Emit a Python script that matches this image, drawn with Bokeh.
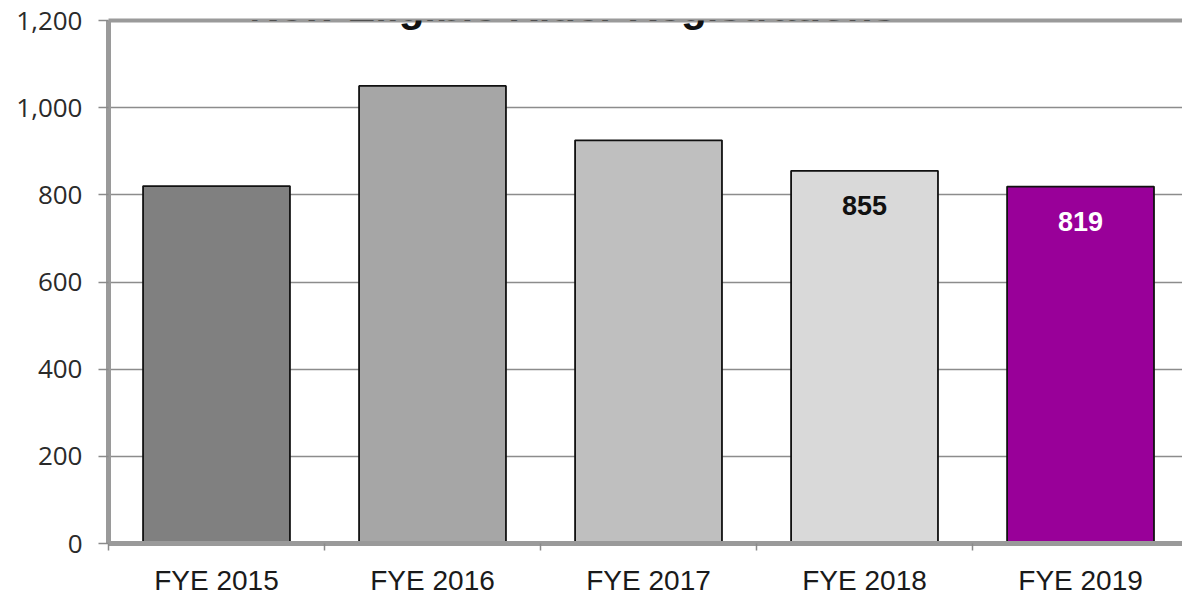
from bokeh.plotting import figure
from bokeh.models import (ColumnDataSource, Range1d, FixedTicker, NumeralTickFormatter,
                          LinearAxis, Label)
from bokeh.core.properties import value
from bokeh.embed import file_html
from bokeh.resources import INLINE

title_text = "New Eligible Rider Registrations"
categories = ["FYE 2015", "FYE 2016", "FYE 2017", "FYE 2018", "FYE 2019"]
registrations = [820, 1050, 925, 855, 819]
bar_colors = ["#808080", "#a6a6a6", "#bfbfbf", "#d9d9d9", "#990099"]
bar_labels = ["", "", "", "855", "819"]
label_colors = ["#111111", "#111111", "#111111", "#111111", "#ffffff"]
y_ticks = [0, 200, 400, 600, 800, 1000, 1200]

xs = list(range(len(categories)))
src = ColumnDataSource(dict(x=xs, y=registrations, color=bar_colors,
                            label=bar_labels, lcolor=label_colors))

p = figure(width=1182, height=598, output_backend="svg", toolbar_location=None,
           x_range=Range1d(-0.5, 4.472), y_range=Range1d(0, 1200),
           min_border_left=108, min_border_right=0, min_border_top=20,
           min_border_bottom=50, background_fill_color="white",
           border_fill_color="white", outline_line_color=None)

p.vbar(x="x", top="y", width=0.68, bottom=0, source=src, fill_color="color",
       line_color="#111111", line_width=1.8)

p.text(x="x", y="y", text="label", source=src, text_color="lcolor",
       text_font=value("Liberation Sans"), text_font_style="bold",
       text_font_size="27px", text_align="center", text_baseline="middle",
       y_offset=35)

# y axis
ya = p.yaxis[0]
ya.ticker = FixedTicker(ticks=y_ticks)
ya.formatter = NumeralTickFormatter(format="0,0")
ya.axis_line_color = "#9a9a9a"
ya.axis_line_width = 5
ya.major_tick_line_color = "#8a8a8a"
ya.major_tick_line_width = 1.5
ya.major_tick_out = 10
ya.major_tick_in = 0
ya.minor_tick_line_color = None
ya.major_label_standoff = 16
ya.major_label_text_font = "Open Sans"
ya.major_label_text_font_size = "26px"
ya.major_label_text_color = "#2a2a2a"

# x axis
xa = p.xaxis[0]
xa.ticker = FixedTicker(ticks=xs, minor_ticks=[i - 0.5 for i in range(len(categories) + 1)])
xa.major_label_overrides = {i: c for i, c in zip(xs, categories)}
xa.axis_line_color = "#9a9a9a"
xa.axis_line_width = 5
xa.major_tick_line_color = None
xa.minor_tick_line_color = "#8a8a8a"
xa.minor_tick_line_width = 1.5
xa.minor_tick_out = 7
xa.minor_tick_in = 0
xa.major_label_standoff = 14
xa.major_label_text_font = "Liberation Sans"
xa.major_label_text_font_size = "28px"
xa.major_label_text_color = "#1a1a1a"

# top border line
top_axis = LinearAxis(ticker=FixedTicker(ticks=[]), axis_line_color="#9a9a9a",
                      axis_line_width=4, major_tick_line_color=None,
                      minor_tick_line_color=None, major_label_text_font_size="0px")
p.add_layout(top_axis, "above")

p.xgrid.grid_line_color = None
p.ygrid.ticker = FixedTicker(ticks=y_ticks)
p.ygrid.grid_line_color = "#8c8c8c"
p.ygrid.grid_line_width = 1.5

p.add_layout(Label(x=464, y=537, x_units="screen", y_units="screen", text=title_text,
                   text_font="Liberation Sans", text_font_style="bold",
                   text_font_size="42px", text_align="center",
                   text_baseline="alphabetic", text_color="#111111"))

open("out.html", "w").write(file_html(p, INLINE))
